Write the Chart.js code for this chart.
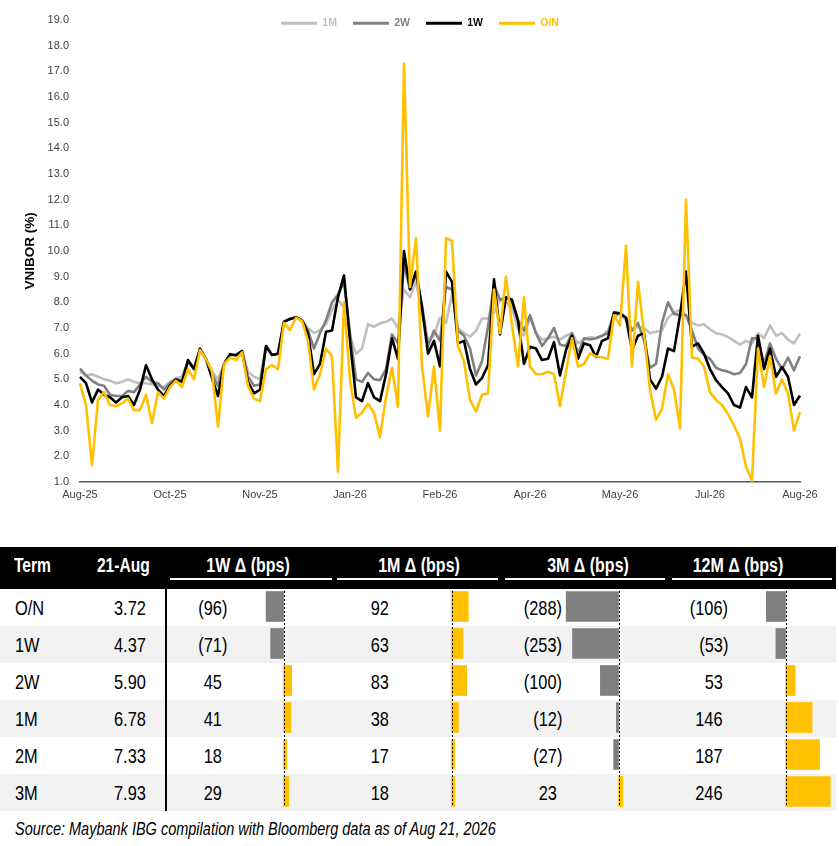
<!DOCTYPE html>
<html>
<head>
<meta charset="utf-8">
<script src="https://cdn.jsdelivr.net/npm/chart.js@4.4.1/dist/chart.umd.min.js"></script>
<style>
  body { margin: 0; background: #fff; }
  #marco { position: relative; width: 839px; height: 846px; overflow: hidden;
           font-family: "Liberation Sans", Arial, sans-serif; }
  #grafico { position: absolute; left: 0; top: 0; }
  .abs { position: absolute; white-space: nowrap; }
  .cab { color: #fff; font-weight: bold; font-size: 20px; line-height: 36px; top: 547px; }
  .celda { font-size: 21px; line-height: 37px; color: #000; }
  .izq { transform: scaleX(0.78); transform-origin: left center; }
  .der { transform: scaleX(0.78); transform-origin: right center; }
  .cen { transform: scaleX(0.8); transform-origin: center center; }
  .oculto { visibility: hidden; }
</style>
</head>
<body>
<div id="marco">
  <canvas id="grafico" width="839" height="510"></canvas>
</div>
<script>
// Ejes y series del gráfico de líneas
const etiquetasX = ['Aug-25', 'Oct-25', 'Nov-25', 'Jan-26', 'Feb-26', 'Apr-26', 'May-26', 'Jul-26', 'Aug-26'];

const serieON = [
  4.84, 4.0, 1.65, 4.2, 4.5, 4.0, 3.95, 4.07, 4.25, 3.8,
  3.8, 4.4, 3.3, 4.5, 4.25, 4.7, 4.95, 4.7, 5.4, 5.0,
  6.14, 5.8, 5.3, 3.15, 5.6, 5.85, 5.75, 6.05, 4.75, 4.25,
  4.15, 5.4, 5.55, 5.4, 7.2, 6.92, 7.4, 7.28, 6.5, 4.6,
  5.2, 6.2, 5.9, 1.4, 8.0, 5.0, 3.5, 3.7, 4.05, 3.7,
  2.75, 4.3, 5.45, 3.93, 17.3, 8.6, 10.5, 5.5, 3.55, 5.5,
  3.0, 10.5, 10.4, 6.3, 5.7, 4.2, 3.75, 4.4, 4.45, 8.5,
  6.8, 9.0, 7.1, 5.5, 8.2, 5.5, 5.2, 5.2, 5.3, 5.2,
  3.95, 5.3, 6.6, 5.5, 5.6, 6.0, 5.9, 5.85, 5.8, 7.5,
  7.1, 10.2, 5.5, 8.8, 6.8, 4.58, 3.43, 3.85, 5.2, 4.6,
  3.1, 12.0, 5.85, 5.8, 5.5, 4.5, 4.2, 4.0, 3.65, 3.2,
  2.7, 1.6, 1.05, 6.2, 4.7, 5.9, 4.45, 5.0, 4.45, 3.0,
  3.72
];

const serie1W = [
  5.1, 4.85, 4.1, 4.6, 4.4, 4.3, 4.1, 4.3, 4.35, 4.0,
  4.6, 5.55, 5.0, 4.6, 4.35, 4.75, 5.0, 4.9, 5.75, 5.4,
  6.2, 5.8, 5.05, 4.35, 5.6, 5.98, 5.94, 6.1, 4.9, 4.45,
  4.6, 6.3, 5.95, 6.0, 7.25, 7.35, 7.42, 7.3, 6.8, 5.2,
  5.6, 6.85, 6.9, 8.2, 9.05, 6.5, 4.3, 4.15, 4.85, 4.3,
  4.15, 5.2, 6.6, 5.8, 10.0, 8.5, 9.2, 7.8, 6.0, 6.5,
  5.5, 9.2, 8.8, 6.4, 6.5, 5.4, 4.8, 5.05, 5.55, 8.9,
  6.75, 8.2, 8.1, 7.3, 5.6, 6.27, 6.2, 5.75, 5.8, 6.45,
  5.15, 6.14, 6.7, 5.8, 6.4, 6.33, 5.87, 6.5, 6.6, 7.6,
  7.57, 7.4, 6.14, 6.7, 6.8, 5.0, 4.64, 5.1, 6.2, 6.1,
  7.5, 9.2, 6.27, 6.4, 6.0, 5.4, 4.97, 4.7, 4.45, 4.0,
  3.9, 4.7, 4.3, 6.7, 5.4, 6.2, 5.1, 5.48, 5.1, 4.0,
  4.37
];

const serie2W = [
  5.42, 5.15, 4.95, 4.8, 4.75, 4.4, 4.35, 4.35, 4.55, 4.5,
  4.8, 5.1, 4.9, 4.85, 4.6, 4.85, 5.0, 4.95, 5.7, 5.4,
  6.15, 5.8, 5.2, 4.75, 5.6, 5.95, 5.95, 6.1, 5.1, 4.75,
  4.8, 6.3, 5.95, 6.0, 7.25, 7.35, 7.42, 7.3, 6.9, 6.2,
  6.8, 7.3, 8.0, 8.3, 8.8, 6.8, 5.0, 4.9, 5.25, 5.0,
  4.97, 5.4, 6.75, 6.4, 9.5, 8.5, 9.1, 7.9, 6.3, 6.9,
  6.5, 8.6, 8.5, 6.9, 6.7, 6.2, 5.15, 5.7, 7.05, 8.7,
  8.1, 8.2, 8.0, 7.3, 6.9, 7.5, 6.8, 6.3, 6.6, 7.0,
  6.35, 6.3, 6.8, 6.0, 6.6, 6.55, 6.6, 6.7, 6.8, 7.6,
  7.57, 7.4, 6.9, 7.2, 6.5, 5.45, 5.6, 7.2, 8.0, 7.55,
  7.5, 7.5, 6.9, 6.2, 5.95, 5.8, 5.45, 5.35, 5.3, 5.2,
  5.25, 5.6, 6.6, 6.6, 5.6, 6.4, 5.8, 5.4, 5.85, 5.35,
  5.90
];

const serie1M = [
  5.3, 5.15, 5.2, 5.1, 5.0, 4.95, 4.85, 4.9, 5.0, 4.9,
  4.85, 4.85, 4.8, 4.75, 4.7, 4.9, 5.05, 5.1, 5.7, 5.45,
  6.1, 5.8, 5.3, 5.0, 5.6, 5.95, 5.95, 6.1, 5.3, 5.1,
  5.0, 6.3, 5.95, 6.0, 7.25, 7.35, 7.42, 7.3, 7.0, 6.8,
  6.92, 7.15, 7.7, 8.1, 7.8, 6.66, 6.0, 6.2, 7.15, 7.05,
  7.18, 7.24, 7.37, 7.0, 8.5, 8.2, 8.8, 7.6, 6.5, 6.7,
  7.4, 7.2, 8.3, 7.0, 6.8, 6.66, 6.9, 7.37, 7.37, 7.6,
  8.1, 8.0, 7.8, 6.95, 6.7, 7.4, 6.8, 6.55, 6.6, 6.66,
  6.55, 6.7, 6.8, 6.4, 6.55, 6.65, 6.6, 6.7, 6.9, 7.4,
  7.57, 7.3, 6.95, 7.05, 7.0, 6.8, 6.85, 6.9, 7.4, 7.6,
  7.7, 7.5, 7.2, 7.1, 7.15, 6.95, 6.8, 6.75, 6.65, 6.5,
  6.35, 6.5, 6.4, 6.8, 6.6, 7.1, 6.7, 6.8, 6.55, 6.4,
  6.78
];

// Tabla de variaciones
const plazos = ['O/N', '1W', '2W', '1M', '2M', '3M'];
const tasas21Ago = [3.72, 4.37, 5.90, 6.78, 7.33, 7.93];
const delta1W = [-96, -71, 45, 41, 18, 29];
const delta1M = [92, 63, 83, 38, 17, 18];
const delta3M = [-288, -253, -100, -12, -27, 23];
const delta12M = [-106, -53, 53, 146, 187, 246];

const fuenteBase = "'Liberation Sans', Arial, sans-serif";
const marco = document.getElementById('marco');

// La leyenda no ocupa alto en el diseño; se centra sobre el lienzo completo
const ajusteLeyenda = {
    id: 'ajusteLeyenda',
    beforeInit(chart) {
        const fitOriginal = chart.legend.fit;
        chart.legend.fit = function () {
            fitOriginal.call(this);
            this.height = 20;
        };
    },
    afterLayout(chart) {
        const l = chart.legend;
        l.left += 20;
        l.right += 20;
        l.top += 2;
        l.height = 40;
        l.bottom = l.top + 40;
    }
};

new Chart(document.getElementById('grafico'), {
    type: 'line',
    data: {
        labels: serieON.map((_, i) => i),
        datasets: [
            { label: 'O/N', data: serieON, borderColor: '#ffc000' },
            { label: '1W', data: serie1W, borderColor: '#000000' },
            { label: '2W', data: serie2W, borderColor: '#808080' },
            { label: '1M', data: serie1M, borderColor: '#bfbfbf' }
        ]
    },
    options: {
        responsive: false,
        animation: false,
        layout: { padding: { left: 0, right: 39, top: 0, bottom: 0 } },
        elements: {
            line: { tension: 0, borderWidth: 2.6, borderJoinStyle: 'round' },
            point: { radius: 0 }
        },
        plugins: {
            tooltip: { enabled: false },
            legend: {
                reverse: true,
                labels: {
                    boxWidth: 36,
                    boxHeight: 3,
                    padding: 16,
                    font: { family: fuenteBase, size: 10.5, weight: 'bold' },
                    generateLabels(chart) {
                        const items = Chart.defaults.plugins.legend.labels.generateLabels(chart);
                        items.forEach(it => {
                            const c = chart.data.datasets[it.datasetIndex].borderColor;
                            it.fillStyle = c;
                            it.strokeStyle = c;
                            it.lineWidth = 0;
                            it.fontColor = c;
                        });
                        return items;
                    }
                }
            }
        },
        scales: {
            x: {
                grid: { display: false, drawTicks: false },
                border: { display: true, color: '#595959', width: 1.5 },
                ticks: {
                    autoSkip: false,
                    maxRotation: 0,
                    padding: 6,
                    color: '#404040',
                    font: { family: fuenteBase, size: 11 },
                    callback: (v, i) => (i % 15 === 0 ? etiquetasX[i / 15] : null)
                },
                afterFit(scale) { scale.height = 28; }
            },
            y: {
                min: 1,
                max: 19,
                grid: { display: false, drawTicks: false },
                border: { display: false },
                ticks: {
                    stepSize: 1,
                    padding: 11,
                    color: '#404040',
                    font: { family: fuenteBase, size: 11 },
                    callback: v => v.toFixed(1)
                },
                title: {
                    display: true,
                    text: 'VNIBOR (%)',
                    color: '#000',
                    font: { family: fuenteBase, size: 13.5, weight: 'bold' },
                    padding: { top: 22, bottom: 0 }
                },
                afterFit(scale) { scale.width = 80; }
            }
        }
    },
    plugins: [ajusteLeyenda]
});

// ---- Tabla ----
function caja(estilo, html, clase) {
    const d = document.createElement('div');
    d.className = 'abs ' + (clase || '');
    Object.assign(d.style, estilo);
    d.innerHTML = html;
    marco.appendChild(d);
    return d;
}

const filaTop = 589, filaAlto = 37;

// Bandas de filas
plazos.forEach((_, r) => {
    caja({ left: '0px', top: (filaTop + r * filaAlto) + 'px', width: '836px', height: filaAlto + 'px',
           background: r % 2 ? '#f2f2f2' : '#ffffff' }, '');
});

// Cabecera
caja({ left: '0px', top: '547px', width: '836px', height: '42px', background: '#000' }, '');
caja({ left: '14px' }, 'Term', 'cab izq');
caja({ right: (839 - 150) + 'px' }, '21-Aug', 'cab der');
const cabeceras = [
    { txt: '1W &Delta; (bps)', centro: 248, linea: [170, 332] },
    { txt: '1M &Delta; (bps)', centro: 419, linea: [337, 498] },
    { txt: '3M &Delta; (bps)', centro: 588, linea: [505, 665] },
    { txt: '12M &Delta; (bps)', centro: 738, linea: [672, 832] }
];
cabeceras.forEach(c => {
    caja({ left: (c.centro - 80) + 'px', width: '160px', textAlign: 'center' }, c.txt, 'cab cen');
    caja({ left: c.linea[0] + 'px', top: '578px', width: (c.linea[1] - c.linea[0]) + 'px', height: '2px', background: '#fff' }, '');
});

// Separador vertical
caja({ left: '165px', top: filaTop + 'px', width: '2px', height: (filaAlto * 6) + 'px', background: '#000' }, '');

function formatoBps(v) {
    return v < 0 ? '(' + Math.abs(v) + ')' : v + '<span class="oculto">)</span>';
}

plazos.forEach((p, r) => {
    const top = (filaTop + r * filaAlto) + 'px';
    caja({ left: '15px', top }, p, 'celda izq');
    caja({ right: (839 - 146) + 'px', top }, tasas21Ago[r].toFixed(2), 'celda der');
});

// Columnas de variación: texto + barras con Chart.js
const columnas = [
    { datos: delta1W, derecha: 227, cero: 284 },
    { datos: delta1M, derecha: 394, cero: 452 },
    { datos: delta3M, derecha: 562, cero: 619 },
    { datos: delta12M, derecha: 728, cero: 786 }
];

const lineaCero = {
    id: 'lineaCero',
    afterDatasetsDraw(chart) {
        const x = Math.round(chart.scales.x.getPixelForValue(0)) + 0.5;
        const ctx = chart.ctx;
        ctx.save();
        ctx.strokeStyle = '#000';
        ctx.lineWidth = 1;
        ctx.setLineDash([2, 2]);
        ctx.beginPath();
        ctx.moveTo(x, chart.chartArea.top + 3);
        ctx.lineTo(x, chart.chartArea.bottom - 3);
        ctx.stroke();
        ctx.restore();
    }
};

const minBps = -300, maxBps = 250, anchoBarras = 100;

columnas.forEach(col => {
    col.datos.forEach((v, r) => {
        caja({ right: (839 - col.derecha) + 'px', top: (filaTop + r * filaAlto) + 'px' }, formatoBps(v), 'celda der');
    });

    const lienzo = document.createElement('canvas');
    lienzo.width = anchoBarras;
    lienzo.height = filaAlto * 6;
    lienzo.className = 'abs';
    lienzo.style.left = (col.cero - anchoBarras * (-minBps) / (maxBps - minBps)) + 'px';
    lienzo.style.top = (filaTop - 1) + 'px';
    marco.appendChild(lienzo);

    new Chart(lienzo, {
        type: 'bar',
        data: {
            labels: plazos,
            datasets: [{
                data: col.datos,
                backgroundColor: col.datos.map(v => (v < 0 ? '#808080' : '#ffc000')),
                barThickness: 30
            }]
        },
        options: {
            indexAxis: 'y',
            responsive: false,
            animation: false,
            layout: { padding: 0 },
            plugins: { legend: { display: false }, tooltip: { enabled: false } },
            scales: {
                x: { display: false, min: minBps, max: maxBps },
                y: { display: false }
            }
        },
        plugins: [lineaCero]
    });
});

caja({ left: '15px', top: '816px', fontSize: '18.6px', fontStyle: 'italic', lineHeight: '26px' },
     'Source: Maybank IBG compilation with Bloomberg data as of Aug 21, 2026', 'izq');
</script>
</body>
</html>
